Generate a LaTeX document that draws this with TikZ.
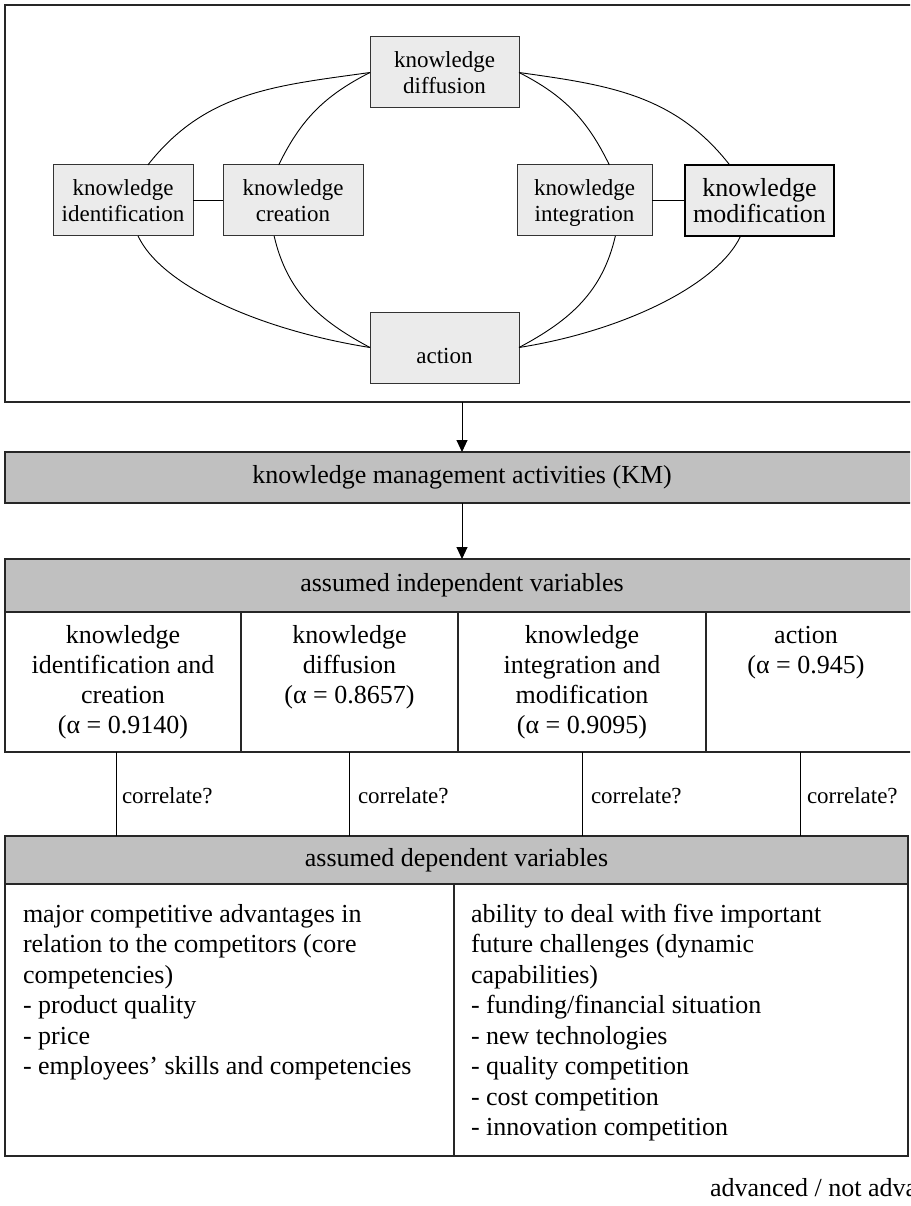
\documentclass[tikz,border=0pt]{standalone}
\usepackage{fontspec}
\setmainfont{Liberation Serif}
\usetikzlibrary{arrows.meta}
\definecolor{boxfill}{RGB}{235,235,235}
\definecolor{headfill}{RGB}{192,192,192}
\newcommand{\fsz}[2]{\fontsize{#1}{#2}\selectfont}
\newcommand{\tstrut}{\rule{0pt}{19pt}}
\newcommand{\nodepth}[1]{\raisebox{0pt}[\height][0pt]{#1}}
\begin{document}
\begin{tikzpicture}[x=1pt,y=1pt,
  every node/.style={inner sep=0pt, outer sep=0pt},
  kbox/.style={draw=black!80, fill=boxfill, line width=1pt, minimum height=71pt, align=center, font=\fsz{23}{26}},
  framebox/.style={draw=black!85, line width=1.3pt},
  head/.style={draw=black!85, fill=headfill, line width=1.3pt, font=\fsz{26}{30}},
  cellbox/.style={draw=black!85, line width=1.2pt},
  ctext/.style={anchor=north, align=center, font=\fsz{26}{30}},
  btext/.style={anchor=north west, align=left, font=\fsz{26}{30.5}},
  corr/.style={anchor=base west, font=\fsz{23}{26}},
  link/.style={line width=0.9pt},
  arr/.style={line width=1pt, -{Triangle[length=12pt,width=11pt]}},
]
\clip (0,0) rectangle (910,-1206);
\fill[white] (0,0) rectangle (910,-1206);

% top frame
\node[framebox, minimum width=914pt, minimum height=397pt] (topframe) at (462,-203.5) {};

% knowledge nodes
\node[kbox, minimum width=149pt] (diff) at (444.5,-72.5) {knowledge\\diffusion};
\node[kbox, minimum width=140pt] (ident) at (123,-200.5) {knowledge\\identification};
\node[kbox, minimum width=140pt] (creat) at (293,-200.5) {knowledge\\creation};
\node[kbox, minimum width=135pt] (integ) at (584.5,-200.5) {knowledge\\\nodepth{integration}};
\node[kbox, minimum width=149pt, draw=black, line width=2pt, font=\fsz{26}{26}] (modif) at (759.5,-200.5) {knowledge\\modification};
\node[kbox, minimum width=149pt] (action) at (444.5,-347.5) {\raisebox{-8pt}[\height][\depth]{action}};

% links
\draw[link] (ident.east) -- (creat.west);
\draw[link] (integ.east) -- (modif.west);
\draw[link] (diff.west) to[out=188,in=52] (ident.55);
\draw[link] (diff.west) to[out=207,in=64] (creat.112);
\draw[link] (diff.east) to[out=-27,in=116] (integ.55);
\draw[link] (diff.east) to[out=-8,in=128] (modif.130);
\draw[link] (ident.-67) to[out=295,in=171,out looseness=0.55,in looseness=1.1] (action.west);
\draw[link] (creat.-118) to[out=283,in=152] (action.west);
\draw[link] (integ.-49) to[out=257,in=28] (action.east);
\draw[link] (modif.-118) to[out=245,in=9,out looseness=0.55,in looseness=1.1] (action.east);

% KM
\node[head, minimum width=914pt, minimum height=51pt] (km) at (462,-477.5) {knowledge management activities (KM)};
\draw[arr] (topframe.south) -- (km.north);

% independent variables
\node[head, minimum width=914pt, minimum height=53pt] (ih) at (462,-585.5) {assumed independent variables};
\draw[arr] (km.south) -- (ih.north);

\node[cellbox, minimum width=236pt, minimum height=140pt] (c1) at (123,-682) {};
\node[cellbox, minimum width=217pt, minimum height=140pt] (c2) at (349.5,-682) {};
\node[cellbox, minimum width=248pt, minimum height=140pt] (c3) at (582,-682) {};
\node[cellbox, minimum width=213pt, minimum height=140pt] (c4) at (812.5,-682) {};
\node[ctext] (t1) at (123,-624) {\tstrut knowledge\\identification and\\creation\\(α = 0.9140)};
\node[ctext] (t2) at (349.5,-624) {\tstrut knowledge\\diffusion\\(α = 0.8657)};
\node[ctext] (t3) at (582,-624) {\tstrut knowledge\\integration and\\modification\\(α = 0.9095)};
\node[ctext] (t4) at (806,-624) {\tstrut action\\(α = 0.945)};

% dependent variables
\node[head, minimum width=903pt, minimum height=48pt] (dh) at (456.5,-860) {assumed dependent variables};

% correlate columns
\coordinate (k1) at (116,-752);
\coordinate (k2) at (349,-752);
\coordinate (k3) at (582,-752);
\coordinate (k4) at (800,-752);
\foreach \k in {k1,k2,k3,k4} \draw[line width=1pt] (\k) -- (\k |- dh.north);
\node[corr] (r1) at (122,-803) {correlate?};
\node[corr] (r2) at (358,-803) {correlate?};
\node[corr] (r3) at (591,-803) {correlate?};
\node[corr] (r4) at (807,-803) {correlate?};

\node[cellbox, minimum width=449pt, minimum height=272pt] (d1) at (229.5,-1020) {};
\node[cellbox, minimum width=454pt, minimum height=272pt] (d2) at (681,-1020) {};
\node[btext] (b1) at (23,-903) {\tstrut major competitive advantages in\\relation to the competitors (core\\competencies)\\- product quality\\- price\\- employees’ skills and competencies};
\node[btext] (b2) at (471,-903) {\tstrut ability to deal with five important\\future challenges (dynamic\\capabilities)\\- funding/financial situation\\- new technologies\\- quality competition\\- cost competition\\- innovation competition};

\node[anchor=base west, font=\fsz{26}{30}] (adv) at (710,-1196) {advanced / not advanced};
\end{tikzpicture}
\end{document}
